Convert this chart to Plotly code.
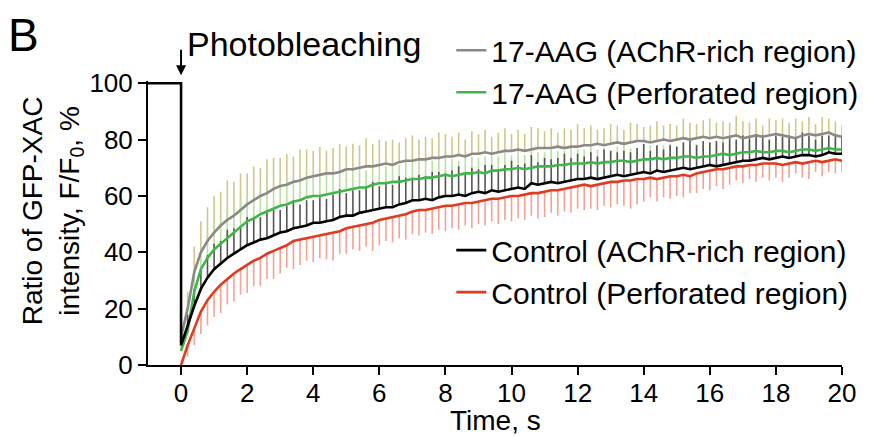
import plotly.graph_objects as go

# ---------------- data ----------------
TIME = [0.0, 0.2, 0.4, 0.6, 0.8, 1.0, 1.2, 1.4, 1.6, 1.8, 2.0,
        2.2, 2.4, 2.6, 2.8, 3.0, 3.2, 3.4, 3.6, 3.8, 4.0,
        4.2, 4.4, 4.6, 4.8, 5.0, 5.2, 5.4, 5.6, 5.8, 6.0,
        6.2, 6.4, 6.6, 6.8, 7.0, 7.2, 7.4, 7.6, 7.8, 8.0,
        8.2, 8.4, 8.6, 8.8, 9.0, 9.2, 9.4, 9.6, 9.8, 10.0,
        10.2, 10.4, 10.6, 10.8, 11.0, 11.2, 11.4, 11.6, 11.8, 12.0,
        12.2, 12.4, 12.6, 12.8, 13.0, 13.2, 13.4, 13.6, 13.8, 14.0,
        14.2, 14.4, 14.6, 14.8, 15.0, 15.2, 15.4, 15.6, 15.8, 16.0,
        16.2, 16.4, 16.6, 16.8, 17.0, 17.2, 17.4, 17.6, 17.8, 18.0,
        18.2, 18.4, 18.6, 18.8, 19.0, 19.2, 19.4, 19.6, 19.8, 20.0]

PRE_TIME = [-1, 0]
PRE_VALUE = [100, 100]

AAG_RICH = [10, 20, 33, 40, 44, 47, 49.5, 51.5, 53, 55, 57,
            58.5, 60, 61, 62.5, 63.5, 64, 65, 65.5, 66.5, 67,
            67.5, 68, 68, 68.5, 69.5, 69.5, 70, 70.5, 70.5, 71,
            71.5, 71, 72, 72.5, 72.5, 73, 73, 73.5, 73.5, 74,
            74, 74.5, 74, 75, 75, 75.5, 75, 75.5, 76, 76,
            76.5, 76, 76.5, 77, 77, 77, 77.5, 77, 77.5, 77.5,
            78, 78, 78.5, 78, 78.5, 79, 78.5, 79, 79.5, 79.5,
            79, 79.5, 80, 79.5, 80, 80.5, 80, 80.5, 81, 80.5,
            81, 80.5, 81, 81.5, 80.5, 81, 81.5, 81, 81.5, 82,
            81.5, 81, 80.5, 81.5, 82, 81.5, 82, 82.5, 81.5, 81]
AAG_RICH_ERR = [2, 6, 9, 11, 12, 13, 12, 14, 12, 13, 11,
                12, 10, 12, 11, 10, 11, 9, 11, 10, 9,
                10, 8, 9, 10, 8, 9, 8, 10, 8, 9,
                8, 9, 7, 8, 9, 7, 8, 7, 9, 8,
                7, 8, 6, 8, 7, 8, 6, 7, 8, 6,
                7, 6, 8, 7, 6, 7, 5, 7, 6, 8,
                6, 7, 5, 6, 7, 6, 5, 7, 6, 5,
                6, 7, 5, 6, 5, 7, 6, 5, 6, 7,
                5, 6, 5, 7, 6, 5, 6, 4, 6, 5,
                6, 5, 7, 5, 6, 4, 6, 5, 5, 4]

AAG_PERF = [5, 12, 26, 34, 38, 41, 43, 45, 47, 49, 51,
            52, 53.5, 54.5, 55.5, 56.5, 57, 58, 58.5, 59.5, 60,
            60, 60.5, 61, 61.5, 62, 62.5, 63, 63, 64, 64.5,
            64.5, 65, 65, 65.5, 66, 66, 66.5, 66.5, 67, 67.5,
            67, 67.5, 68, 68, 68.5, 68, 69, 69, 69.5, 69.5,
            70, 69.5, 70, 70.5, 70.5, 70.5, 71, 71, 71.5, 71.5,
            71.5, 72, 71.5, 72, 72, 72.5, 72.5, 72, 72.5, 73,
            73, 73.5, 73, 73.5, 73.5, 74, 74, 73.5, 74, 74,
            74.5, 75, 74.5, 75, 75.5, 75.5, 76, 75.5, 75.5, 76,
            76, 75.5, 76, 76.5, 76.5, 76, 76.5, 77, 76.5, 76.5]
AAG_PERF_ERR = [2, 4, 7, 8, 9, 10, 9, 10, 9, 10, 9,
                9, 8, 9, 8, 9, 8, 8, 7, 8, 8,
                7, 8, 7, 8, 7, 7, 8, 6, 7, 7,
                6, 7, 6, 7, 6, 7, 6, 6, 7, 6,
                6, 5, 6, 6, 5, 6, 6, 5, 6, 5,
                6, 5, 6, 5, 5, 6, 5, 5, 6, 5,
                5, 6, 5, 5, 4, 5, 6, 5, 4, 5,
                5, 4, 5, 5, 4, 5, 4, 5, 4, 5,
                4, 5, 4, 4, 5, 4, 5, 4, 4, 5,
                4, 4, 5, 4, 4, 5, 4, 4, 3, 4]

CTRL_RICH = [7, 14, 21, 27, 31, 34, 36, 38, 39.5, 41, 42.5,
             43.5, 44.5, 45, 46, 47, 47.5, 48.5, 49, 49.5, 50.5,
             50.5, 51, 51.5, 52.5, 53, 53, 54, 54.5, 55, 55.5,
             56, 56, 57, 57.5, 58.5, 58.5, 59, 58.5, 59.5, 60,
             60, 60.5, 60, 61, 61.5, 61, 62, 61.5, 62, 62.5,
             63, 62.5, 64.5, 64, 64.5, 65, 64.5, 65, 65.5, 66,
             66, 66.5, 66, 66.5, 67, 67.5, 67, 67.5, 68, 68.5,
             68, 69, 68.5, 69, 69.5, 70, 69.5, 70, 70.5, 71,
             70.5, 71, 71.5, 72, 72.5, 72.5, 73, 73.5, 73, 73.5,
             74, 73.5, 74, 74.5, 74.5, 74, 74.5, 75.5, 75, 75]
CTRL_RICH_ERR = [2, 4, 6, 7, 8, 9, 8, 10, 9, 8, 10,
                 9, 8, 10, 9, 8, 9, 10, 8, 9, 8,
                 9, 8, 9, 10, 8, 9, 8, 9, 10, 8,
                 9, 8, 10, 9, 8, 9, 8, 10, 9, 8,
                 9, 10, 8, 9, 8, 10, 9, 8, 9, 10,
                 8, 9, 10, 8, 9, 8, 9, 10, 8, 9,
                 8, 9, 8, 10, 9, 8, 9, 8, 9, 10,
                 8, 9, 8, 9, 8, 9, 10, 8, 9, 8,
                 9, 8, 9, 8, 9, 8, 9, 8, 7, 8,
                 7, 8, 7, 8, 7, 6, 7, 6, 7, 6]

CTRL_PERF = [0, 7, 13, 19, 23, 26, 28.5, 30.5, 32.5, 34, 35.5,
             37, 38, 39.5, 40.5, 41.5, 42.5, 44, 44.5, 45, 45.5,
             46, 46.5, 47, 47.5, 48.5, 49, 49.5, 50, 50.5, 51.5,
             52, 52.5, 53, 53.5, 54.5, 55, 55, 55.5, 56, 56.5,
             56.5, 57, 57.5, 57.5, 58, 58.5, 59, 59, 59.5, 60,
             60, 60.5, 61, 61, 61.5, 62, 62, 62.5, 63, 63.5,
             64, 63.5, 64, 64.5, 65, 65, 65.5, 65.5, 66, 66,
             66.5, 66, 66.5, 67, 67, 67.5, 67, 68, 68.5, 69,
             69.5, 69.5, 70, 70.5, 70.5, 71, 71, 71.5, 71.5, 71.5,
             71, 71.5, 72, 71.5, 72, 72.5, 72, 72.5, 73, 72.5]
CTRL_PERF_ERR = [0, 4, 6, 8, 9, 9, 10, 9, 10, 9, 10,
                 9, 10, 9, 10, 9, 8, 10, 9, 8, 9,
                 8, 9, 10, 8, 9, 8, 9, 8, 10, 9,
                 8, 9, 8, 9, 8, 9, 8, 9, 8, 9,
                 8, 9, 8, 9, 8, 9, 8, 9, 8, 9,
                 8, 9, 8, 9, 9, 8, 9, 8, 9, 8,
                 9, 8, 9, 8, 9, 8, 9, 10, 9, 8,
                 7, 8, 7, 8, 7, 8, 6, 7, 6, 7,
                 6, 7, 6, 5, 6, 5, 6, 5, 6, 5,
                 6, 5, 4, 5, 6, 4, 5, 4, 5, 4]

X_TICKS = [0, 2, 4, 6, 8, 10, 12, 14, 16, 18, 20]
Y_TICKS = [0, 20, 40, 60, 80, 100]

NAMES = ["17-AAG (AChR-rich region)", "17-AAG (Perforated region)",
         "Control (AChR-rich region)", "Control (Perforated region)"]

# ---------------- styling ----------------
FONT = "Arial, Liberation Sans, sans-serif"
LINE_COL = ["#8c8884", "#3fb54a", "#000000", "#e03a22"]
BAR_COL = ["#cfc78c", "#b9dfa2", "#555555", "#f4a295"]

ZEROS = [0] * len(TIME)

fig = go.Figure()

series = [AAG_RICH, AAG_PERF, CTRL_RICH, CTRL_PERF]
errors = [AAG_RICH_ERR, AAG_PERF_ERR, CTRL_RICH_ERR, CTRL_PERF_ERR]
downward = [False, False, False, True]

# error bars first (beneath all lines)
for vals, err, col, down in zip(series, errors, BAR_COL, downward):
    fig.add_trace(go.Scatter(
        x=TIME, y=vals, mode="lines", line=dict(width=0, color=col),
        showlegend=False, hoverinfo="skip",
        error_y=dict(type="data", symmetric=False,
                     array=ZEROS if down else err,
                     arrayminus=err if down else ZEROS,
                     color=col, thickness=1.6, width=0)))

# mean lines
order = [0, 1, 3, 2]
legends = ["legend", "legend", "legend2", "legend2"]
ranks = [1, 2, 3, 4]
for i in order:
    x = TIME
    y = series[i]
    if i == 2:
        x = PRE_TIME + TIME
        y = PRE_VALUE + CTRL_RICH
    fig.add_trace(go.Scatter(
        x=x, y=y, mode="lines", name=NAMES[i],
        line=dict(color=LINE_COL[i], width=2.6),
        legend=legends[i], legendrank=ranks[i]))

axis_common = dict(showline=True, linecolor="black", linewidth=2,
                   ticks="outside", ticklen=8, tickwidth=2, tickcolor="black",
                   showgrid=False, zeroline=False, automargin=False,
                   tickfont=dict(family=FONT, size=26, color="black"))

fig.update_layout(
    width=869, height=437,
    margin=dict(l=148, r=27, t=81, b=72, autoexpand=False),
    paper_bgcolor="white", plot_bgcolor="white",
    font=dict(family=FONT, color="black"),
    xaxis=dict(range=[-1, 20], tickvals=X_TICKS, ticklabelstandoff=-4,
               **axis_common),
    yaxis=dict(range=[0, 100.8], tickvals=Y_TICKS, **axis_common),
    legend=dict(x=0.437, y=1.2, xanchor="left", yanchor="top",
                bgcolor="rgba(0,0,0,0)", font=dict(family=FONT, size=30),
                tracegroupgap=0, itemwidth=30),
    legend2=dict(x=0.437, y=0.496, xanchor="left", yanchor="top",
                 bgcolor="rgba(0,0,0,0)", font=dict(family=FONT, size=30),
                 tracegroupgap=0, itemwidth=30),
    annotations=[
        dict(text="B", xref="paper", yref="paper", x=-0.2046, y=1.161,
             xanchor="left", yanchor="middle", showarrow=False,
             font=dict(family=FONT, size=46)),
        dict(text="Photobleaching", xref="paper", yref="paper", x=0.053, y=1.129,
             xanchor="left", yanchor="middle", showarrow=False,
             font=dict(family=FONT, size=34)),
        dict(text="", x=0, y=100, xref="x", yref="y", showarrow=True,
             ax=0, ay=-35, arrowhead=2, arrowsize=1, arrowwidth=2,
             arrowcolor="black", standoff=8),
        dict(text="Ratio of GFP-XAC<br>intensity, F/F<sub>0</sub>, %",
             xref="paper", yref="paper", x=-0.138, y=0.542,
             xanchor="center", yanchor="middle", textangle=-90,
             showarrow=False, font=dict(family=FONT, size=28)),
        dict(text="Time, s", xref="paper", yref="paper", x=0.5, y=-0.195,
             xanchor="center", yanchor="middle", showarrow=False,
             borderpad=0, font=dict(family=FONT, size=28)),
    ],
)

fig.write_html("out.html", config={"displayModeBar": False},
               post_script="document.body.style.margin='0';")
